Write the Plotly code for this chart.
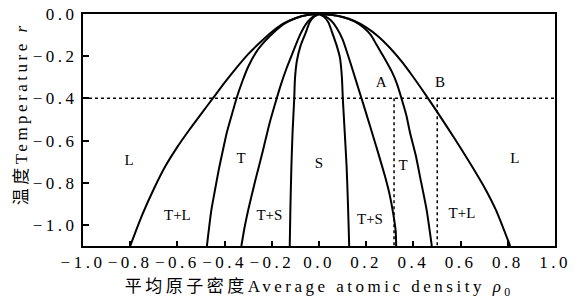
import plotly.graph_objects as go

# Phase-boundary curves (each starts at the origin)
outer_r_x = [0.0, 0.05, 0.10, 0.15, 0.20, 0.25, 0.30, 0.35, 0.40, 0.45, 0.50, 0.55, 0.60, 0.65, 0.70, 0.75, 0.81]
outer_r_y = [0.0, -0.004, -0.014, -0.033, -0.063, -0.105, -0.16, -0.225, -0.30, -0.38, -0.463, -0.548, -0.635, -0.725, -0.82, -0.93, -1.10]
outer_l_x = [0.0, -0.05, -0.10, -0.15, -0.20, -0.25, -0.30, -0.35, -0.40, -0.45, -0.50, -0.55, -0.60, -0.65, -0.70, -0.75, -0.80]
outer_l_y = [0.0, -0.005, -0.02, -0.045, -0.085, -0.135, -0.19, -0.255, -0.325, -0.40, -0.475, -0.55, -0.63, -0.72, -0.83, -0.955, -1.10]

tl_r_x = [0.0, 0.05, 0.10, 0.15, 0.19, 0.22, 0.244, 0.275, 0.308, 0.33, 0.349, 0.37, 0.386, 0.41, 0.428, 0.456, 0.478]
tl_r_y = [0.0, -0.004, -0.014, -0.035, -0.065, -0.10, -0.146, -0.205, -0.272, -0.33, -0.398, -0.48, -0.564, -0.67, -0.771, -0.929, -1.10]
tl_l_x = [0.0, -0.05, -0.10, -0.15, -0.19, -0.23, -0.264, -0.30, -0.325, -0.349, -0.37, -0.39, -0.407, -0.425, -0.44, -0.456, -0.475]
tl_l_y = [0.0, -0.005, -0.02, -0.048, -0.085, -0.13, -0.177, -0.25, -0.32, -0.398, -0.48, -0.56, -0.645, -0.74, -0.83, -0.929, -1.10]

ts_r_x = [0.0, 0.025, 0.05, 0.075, 0.10, 0.131, 0.155, 0.181, 0.205, 0.230, 0.255, 0.280, 0.30, 0.315, 0.325, 0.327]
ts_r_y = [0.0, -0.01, -0.03, -0.066, -0.12, -0.224, -0.31, -0.403, -0.49, -0.582, -0.675, -0.771, -0.86, -0.95, -1.03, -1.10]
ts_l_x = [0.0, -0.025, -0.05, -0.081, -0.11, -0.137, -0.16, -0.18, -0.21, -0.237, -0.27, -0.30, -0.315, -0.329]
ts_l_y = [0.0, -0.012, -0.04, -0.10, -0.18, -0.256, -0.33, -0.403, -0.52, -0.645, -0.79, -0.929, -1.01, -1.10]

s_r_x = [0.0, 0.02, 0.04, 0.054, 0.075, 0.089, 0.097, 0.101, 0.109, 0.117, 0.123, 0.128]
s_r_y = [0.0, -0.012, -0.04, -0.082, -0.15, -0.209, -0.30, -0.403, -0.56, -0.724, -0.91, -1.10]
s_l_x = [0.0, -0.02, -0.04, -0.055, -0.078, -0.094, -0.102, -0.105, -0.112, -0.117, -0.121, -0.124]
s_l_y = [0.0, -0.012, -0.04, -0.085, -0.15, -0.224, -0.31, -0.403, -0.56, -0.724, -0.91, -1.10]

temp_level = -0.4
point_a_x = 0.318
point_b_x = 0.501

region_labels = ["L", "T", "S", "T", "L", "T+L", "T+S", "T+S", "T+L", "A", "B"]
label_x = [-0.805, -0.33, 0.0, 0.356, 0.83, -0.60, -0.21, 0.216, 0.606, 0.263, 0.513]
label_y = [-0.70, -0.69, -0.71, -0.72, -0.69, -0.96, -0.96, -0.98, -0.95, -0.33, -0.33]

x_ticks = [-1.0, -0.8, -0.6, -0.4, -0.2, 0.0, 0.2, 0.4, 0.6, 0.8, 1.0]
y_ticks = [0.0, -0.2, -0.4, -0.6, -0.8, -1.0]

x_title = "平均原子密度Average atomic density <i>ρ</i><sub>0</sub>"
y_title = "温度Temperature <i>r</i>"

FONT = "Liberation Serif, Times New Roman, Noto Sans CJK SC, serif"

fig = go.Figure()
curves = [(outer_r_x, outer_r_y), (outer_l_x, outer_l_y), (tl_r_x, tl_r_y), (tl_l_x, tl_l_y),
          (ts_r_x, ts_r_y), (ts_l_x, ts_l_y), (s_r_x, s_r_y), (s_l_x, s_l_y)]
for cx, cy in curves:
    fig.add_trace(go.Scatter(x=cx, y=cy, mode="lines",
                             line=dict(color="black", width=2, shape="spline", smoothing=0.6),
                             hoverinfo="skip", showlegend=False))

dot = dict(color="black", width=1.5, dash="dot")
fig.add_trace(go.Scatter(x=[-1.0, 1.0], y=[temp_level, temp_level], mode="lines", line=dot,
                         hoverinfo="skip", showlegend=False))
fig.add_trace(go.Scatter(x=[point_a_x, point_a_x], y=[temp_level, -1.1], mode="lines", line=dot,
                         hoverinfo="skip", showlegend=False))
fig.add_trace(go.Scatter(x=[point_b_x, point_b_x], y=[temp_level, -1.1], mode="lines", line=dot,
                         hoverinfo="skip", showlegend=False))

fig.add_trace(go.Scatter(x=label_x, y=label_y, mode="text", text=region_labels,
                         textfont=dict(family=FONT, size=15, color="black"),
                         showlegend=False, hoverinfo="skip"))

fig.update_layout(
    width=579, height=302,
    margin=dict(l=83, r=24, t=14, b=56),
    paper_bgcolor="white", plot_bgcolor="white",
    font=dict(family=FONT, size=17, color="black"),
    annotations=[
        dict(text=x_title, xref="paper", yref="paper", x=0.5, y=-0.181,
             xanchor="center", yanchor="middle", showarrow=False,
             font=dict(family=FONT, size=17, color="black")),
        dict(text=y_title, xref="paper", yref="paper", x=-0.129, y=0.569,
             xanchor="center", yanchor="middle", showarrow=False, textangle=-90,
             font=dict(family=FONT, size=17, color="black")),
    ],
)
fig.update_xaxes(range=[-1.0, 1.0], tickvals=x_ticks, tickformat=".1f", automargin=False,
                 ticks="inside", ticklen=5, tickwidth=1.5, tickcolor="black",
                 showline=True, linewidth=2, linecolor="black", mirror=True,
                 showgrid=False, zeroline=False,
                 tickfont=dict(family=FONT, size=17))
fig.update_yaxes(range=[-1.1, 0.0], tickvals=y_ticks, tickformat=".1f", automargin=False,
                 ticks="inside", ticklen=6, tickwidth=1.5, tickcolor="black",
                 showline=True, linewidth=2, linecolor="black", mirror=True,
                 showgrid=False, zeroline=False,
                 tickfont=dict(family=FONT, size=17))

page_css = (
    "var s=document.createElement('style');"
    "s.innerHTML='body{margin:0;} .xtick text, .ytick text, .annotation-text {letter-spacing:3.5px;}';"
    "document.head.appendChild(s);"
)
fig.write_html("out.html", post_script=page_css, config={"displayModeBar": False})
